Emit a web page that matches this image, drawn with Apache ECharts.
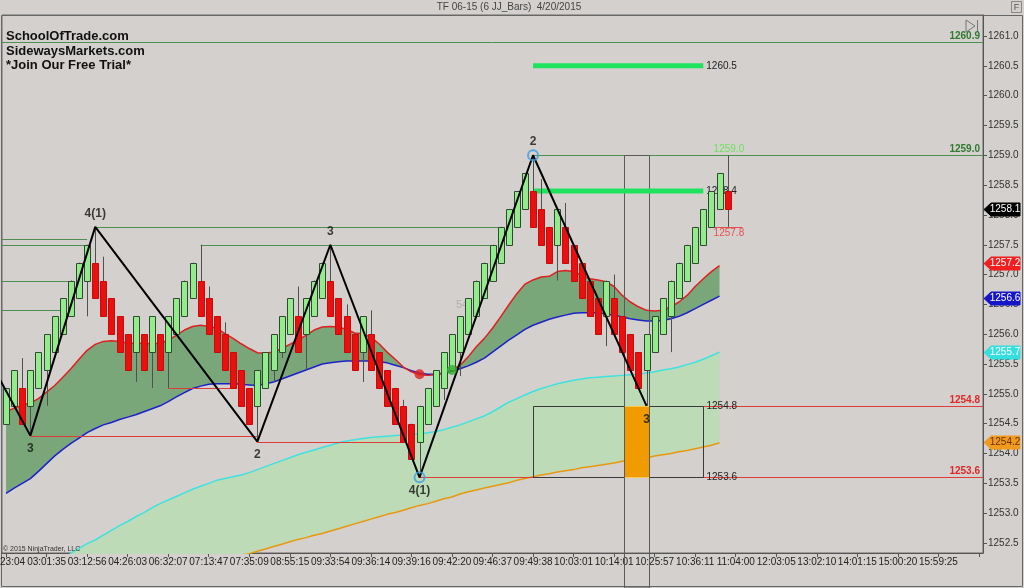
<!DOCTYPE html>
<html><head><meta charset="utf-8">
<script src="https://cdn.jsdelivr.net/npm/echarts@6/dist/echarts.min.js"></script>
<style>html,body{margin:0;padding:0;background:#d3d0cd;}#c{width:1024px;height:588px;}</style>
</head><body><div id="c"></div>
<script>
// ---------- DATA ----------
// first label is cut by the left edge in the original; only "23:04" is visible
const tickLabels = ["23:04","03:01:35","03:12:56","04:26:03","06:32:07","07:13:47","07:35:09","08:55:15",
  "09:33:54","09:36:14","09:39:16","09:42:20","09:46:37","09:49:38","10:03:01","10:14:01","10:25:57",
  "10:36:11","11:04:00","12:03:05","13:02:10","14:01:15","15:00:20","15:59:25"];
const slotCount = 121;

const barOpen = [1254.5,1254.8,1255.1,1254.8,1255.1,1255.4,1255.7,1256.0,1256.3,1256.6,
 1256.9,1257.2,1256.9,1256.6,1256.3,1256.0,1255.7,1256.0,1255.7,1256.0,
 1255.7,1256.0,1256.3,1256.6,1256.9,1256.6,1256.3,1256.0,1255.7,1255.4,
 1255.1,1254.8,1255.1,1255.4,1255.7,1256.0,1256.3,1256.0,1256.3,1256.6,
 1256.9,1256.6,1256.3,1256.0,1255.7,1256.0,1255.7,1255.4,1255.1,1254.8,
 1254.5,1254.2,1254.5,1254.8,1255.1,1255.4,1255.7,1256.0,1256.3,1256.6,
 1256.9,1257.2,1257.5,1257.8,1258.1,1258.4,1258.1,1257.8,1257.5,1257.8,
 1257.5,1257.2,1256.9,1256.6,1256.3,1256.6,1256.3,1256.0,1255.7,1255.4,
 1255.7,1256.0,1256.3,1256.6,1256.9,1257.2,1257.5,1257.8,1258.1,1258.4];
const barClose = [1255.1,1255.4,1254.5,1255.4,1255.7,1256.0,1256.3,1256.6,1256.9,1257.2,
 1257.5,1256.6,1256.3,1256.0,1255.7,1255.4,1256.3,1255.4,1256.3,1255.4,
 1256.3,1256.6,1256.9,1257.2,1256.3,1256.0,1255.7,1255.4,1255.1,1254.8,
 1254.5,1255.4,1255.7,1256.0,1256.3,1256.6,1255.7,1256.6,1256.9,1257.2,
 1256.3,1256.0,1255.7,1255.4,1256.3,1255.4,1255.1,1254.8,1254.5,1254.2,
 1253.9,1254.8,1255.1,1255.4,1255.7,1256.0,1256.3,1256.6,1256.9,1257.2,
 1257.5,1257.8,1258.1,1258.4,1258.7,1257.8,1257.5,1257.2,1258.1,1257.2,
 1256.9,1256.6,1256.3,1256.0,1256.9,1256.0,1255.7,1255.4,1255.1,1256.0,
 1256.3,1256.6,1256.9,1257.2,1257.5,1257.8,1258.1,1258.4,1258.7,1258.1];
const barHigh = [1255.1,1255.4,1255.6,1255.4,1255.7,1256.0,1256.3,1256.6,1256.9,1257.2,
 1257.5,1257.8,1257.3,1256.6,1256.3,1256.0,1256.3,1256.0,1256.3,1256.0,
 1256.3,1256.6,1256.9,1257.2,1257.5,1256.8,1256.3,1256.2,1255.7,1255.4,
 1255.1,1255.4,1255.7,1256.0,1256.3,1256.6,1256.8,1256.6,1256.9,1257.2,
 1257.5,1256.6,1256.5,1256.0,1256.3,1256.4,1255.7,1255.4,1255.1,1254.9,
 1254.5,1254.8,1255.1,1255.4,1255.7,1256.0,1256.3,1256.6,1256.9,1257.2,
 1257.5,1257.8,1258.1,1258.4,1258.7,1259.0,1258.6,1257.8,1258.1,1258.2,
 1257.5,1257.2,1256.9,1256.6,1256.9,1257.0,1256.3,1256.0,1255.7,1256.0,
 1256.3,1256.6,1256.9,1257.2,1257.5,1257.8,1258.1,1258.4,1258.7,1259.0];
const barLow = [1254.5,1254.8,1254.5,1254.3,1255.1,1254.8,1255.7,1256.0,1256.3,1256.6,
 1256.3,1256.6,1256.3,1256.0,1255.7,1255.4,1255.2,1255.4,1255.1,1255.4,
 1255.1,1256.0,1256.3,1256.6,1256.3,1256.0,1255.7,1255.4,1255.1,1254.8,
 1254.5,1254.2,1255.1,1255.2,1255.6,1256.0,1255.7,1255.4,1256.3,1256.6,
 1256.3,1256.0,1255.7,1255.4,1255.2,1255.4,1255.1,1254.8,1254.5,1254.2,
 1253.9,1253.6,1254.5,1254.8,1254.9,1255.4,1255.3,1256.0,1256.3,1256.6,
 1256.9,1257.2,1257.5,1257.8,1258.1,1257.8,1257.5,1257.2,1256.9,1257.2,
 1256.9,1256.6,1256.3,1256.0,1255.8,1256.0,1255.7,1255.4,1255.1,1254.8,
 1255.7,1256.0,1255.7,1256.6,1256.9,1257.2,1257.5,1257.8,1258.1,1257.8];

const redMA = [1254.70,1254.76,1254.81,1254.85,1254.92,1255.03,1255.14,1255.28,1255.42,1255.58,
 1255.73,1255.83,1255.88,1255.89,1255.88,1255.85,1255.85,1255.85,1255.84,1255.85,
 1255.90,1255.98,1256.07,1256.13,1256.15,1256.13,1256.10,1256.01,1255.93,1255.84,
 1255.76,1255.69,1255.68,1255.70,1255.76,1255.83,1255.90,1255.98,1256.07,1256.12,
 1256.13,1256.12,1256.08,1256.02,1256.01,1255.95,1255.84,1255.70,1255.58,1255.45,
 1255.37,1255.32,1255.31,1255.32,1255.35,1255.40,1255.48,1255.62,1255.79,1255.93,
 1256.10,1256.29,1256.49,1256.68,1256.84,1256.91,1256.96,1256.97,1257.05,1257.07,
 1257.05,1256.99,1256.93,1256.91,1256.88,1256.80,1256.65,1256.54,1256.46,1256.40,
 1256.39,1256.40,1256.46,1256.54,1256.65,1256.80,1256.93,1257.05,1257.15];
const blueMA = [1253.33,1253.42,1253.50,1253.58,1253.70,1253.83,1253.96,1254.07,1254.17,1254.26,
 1254.35,1254.42,1254.48,1254.52,1254.57,1254.61,1254.65,1254.70,1254.75,1254.80,
 1254.87,1254.95,1255.02,1255.09,1255.13,1255.16,1255.17,1255.17,1255.17,1255.16,
 1255.15,1255.14,1255.17,1255.20,1255.25,1255.30,1255.35,1255.40,1255.45,1255.50,
 1255.52,1255.54,1255.55,1255.55,1255.55,1255.55,1255.54,1255.52,1255.48,1255.44,
 1255.39,1255.35,1255.33,1255.33,1255.35,1255.38,1255.42,1255.47,1255.53,1255.60,
 1255.70,1255.80,1255.90,1255.99,1256.08,1256.15,1256.20,1256.25,1256.29,1256.32,
 1256.35,1256.36,1256.36,1256.36,1256.34,1256.32,1256.29,1256.26,1256.24,1256.22,
 1256.22,1256.23,1256.26,1256.30,1256.36,1256.43,1256.50,1256.57,1256.64];
const cyanMA = [null,null,null,null,null,null,null,1252.22,1252.33,1252.41,
 1252.49,1252.55,1252.63,1252.71,1252.79,1252.86,1252.94,1253.01,1253.09,1253.16,
 1253.22,1253.28,1253.34,1253.40,1253.45,1253.50,1253.55,1253.58,1253.61,1253.64,
 1253.68,1253.73,1253.78,1253.83,1253.88,1253.93,1253.98,1254.02,1254.06,1254.10,
 1254.14,1254.18,1254.21,1254.23,1254.25,1254.27,1254.28,1254.29,1254.30,1254.31,
 1254.32,1254.33,1254.35,1254.37,1254.40,1254.44,1254.48,1254.53,1254.58,1254.63,
 1254.70,1254.78,1254.86,1254.92,1254.98,1255.04,1255.09,1255.13,1255.17,1255.20,
 1255.23,1255.25,1255.27,1255.28,1255.29,1255.30,1255.31,1255.32,1255.33,1255.35,
 1255.37,1255.40,1255.42,1255.45,1255.49,1255.53,1255.58,1255.64,1255.70];
const orangeMA = [null,null,null,null,null,null,null,1251.50,1251.54,1251.58,
 1251.62,1251.66,1251.70,1251.74,1251.78,1251.82,1251.86,1251.90,1251.94,1251.98,
 1252.02,1252.06,1252.10,1252.13,1252.16,1252.19,1252.22,1252.25,1252.28,1252.30,
 1252.32,1252.36,1252.40,1252.44,1252.48,1252.52,1252.56,1252.59,1252.63,1252.66,
 1252.70,1252.74,1252.78,1252.82,1252.86,1252.90,1252.94,1252.98,1253.01,1253.05,
 1253.09,1253.13,1253.16,1253.20,1253.24,1253.27,1253.32,1253.36,1253.39,1253.42,
 1253.45,1253.48,1253.51,1253.55,1253.58,1253.61,1253.64,1253.66,1253.69,1253.71,
 1253.73,1253.76,1253.78,1253.80,1253.82,1253.84,1253.87,1253.89,1253.91,1253.93,
 1253.96,1253.98,1254.00,1254.03,1254.05,1254.08,1254.11,1254.14,1254.18];

// swing zigzag
const zzIdx   = [-1, 3, 11, 31, 40, 51, 65, 79];
const zzPrice = [1255.3, 1254.3, 1257.8, 1254.2, 1257.5, 1253.6, 1259.0, 1254.8];
const zzText  = ["", "3", "4(1)", "2", "3", "4(1)", "2", "3"];
const zzSide  = ["low","low","high","low","high","low","high","low"];
const zzCircleIdx = [51, 65];
const zzCirclePrice = [1253.6, 1259.0];
// MA cross dots
const crossIdx = [51, 55];
const crossPrice = [1255.33, 1255.40];
const crossDir = ["down", "up"];

// horizontal swing levels (null = runs off the chart edge)
const levelPrice = [1260.9, 1259.0, 1257.8, 1257.6, 1257.5, 1256.9, 1256.4, 1257.5, 1254.3, 1255.1, 1254.2, 1253.6, 1254.8];
const levelFrom  = [null, 65, 11, null, null, null, null, 24, 3, 20, 31, 51, 79];
const levelTo    = [null, null, 61, 10, 10, 8, 7, 60, 31, 28, 49, null, null];
const levelSide  = ["high","high","high","high","high","high","high","high","low","low","low","low","low"];

// target lines
const targetPrice = [1260.5, 1258.4];
const targetFrom = [65, 65];
const targetTo = [86, 86];

// zones
const zoneFrom = [65, 76.25, 76.25];
const zoneTo   = [86, 79.25, 79.25];
const zoneLow  = [1253.6, 1253.6, null];
const zoneHigh = [1254.8, 1254.8, 1259.0];
const zoneKind = ["box", "fill", "column"];

// current bar projection
const projHigh = 1259.0, projLow = 1257.8;

// axis price markers
const tagValues = [1258.1, 1257.2, 1256.6, 1255.7, 1254.2];

// ---------- CHART ----------
const FONT = "'Liberation Sans', Arial, sans-serif";
const cats = Array.from({length: slotCount}, (_, i) => String(i));
const nBars = barOpen.length;
const candleData = barOpen.map((o, i) => [i, o, barHigh[i], barLow[i], barClose[i]]);
const dgLow = redMA.map((r, i) => Math.min(r, blueMA[i]));
const dgBand = redMA.map((r, i) => Math.abs(r - blueMA[i]));
const lgBand = cyanMA.map((c, i) => c == null ? null : c - orangeMA[i]);
const pair = arr => arr.map((v, i) => [i, v == null ? '-' : v]);

function xAt(api, f, p) {
  const i = Math.floor(f);
  return api.coord([i, p])[0] + (f - i) * api.size([1, 0])[0];
}

const chart = echarts.init(document.getElementById('c'), null, {renderer: 'canvas'});
const option = {
  animation: false,
  backgroundColor: '#d3d0cd',
  textStyle: {fontFamily: FONT},
  grid: {left: 2, right: 41, top: 15, bottom: 35, show: true, borderColor: '#6a6a6a', borderWidth: 1,
    containLabel: false, outerBoundsMode: 'none'},
  xAxis: {
    type: 'category', data: cats, boundaryGap: true,
    axisLine: {show: true, lineStyle: {color: '#555', width: 1}},
    axisTick: {show: true, alignWithLabel: true, interval: 4, length: 4, lineStyle: {color: '#555'}},
    axisLabel: {interval: 4, fontSize: 10, color: '#222', margin: 4, fontFamily: FONT, showMinLabel: true, hideOverlap: false,
      rich: {first: {fontSize: 10, color: '#222', fontFamily: FONT, padding: [0, 0, 0, 13]}},
      formatter: (v, i) => {
        if (i % 5 !== 0 || !tickLabels[i / 5]) return '';
        return i === 0 ? '{first|' + tickLabels[0] + '}' : tickLabels[i / 5];
      }},
    splitLine: {show: false}
  },
  yAxis: {
    type: 'value', position: 'right', min: 1252.332, max: 1261.352, splitNumber: 18, scale: true,
    axisLine: {show: true, lineStyle: {color: '#555'}},
    axisTick: {show: true, length: 4, lineStyle: {color: '#555'}},
    axisLabel: {fontSize: 10, color: '#333', margin: 5, fontFamily: FONT, showMinLabel: false, showMaxLabel: false,
      formatter: v => v.toFixed(1)},
    splitLine: {show: false}
  },
  graphic: [
    {type: 'rect', shape: {x: 1.5, y: 15.5, width: 1021, height: 571}, style: {fill: 'none', stroke: '#666', lineWidth: 1}, silent: true, z: -1},
    {type: 'text', x: 509, y: 7, style: {text: 'TF 06-15 (6 JJ_Bars)  4/20/2015', font: '10px ' + FONT, fill: '#444', align: 'center', verticalAlign: 'middle'}},
    {type: 'text', x: 6, y: 36, style: {text: 'SchoolOfTrade.com', font: 'bold 13px ' + FONT, fill: '#111', verticalAlign: 'middle'}, z: 50},
    {type: 'text', x: 6, y: 51, style: {text: 'SidewaysMarkets.com', font: 'bold 13px ' + FONT, fill: '#111', verticalAlign: 'middle'}, z: 50},
    {type: 'text', x: 6, y: 65, style: {text: '*Join Our Free Trial*', font: 'bold 13px ' + FONT, fill: '#111', verticalAlign: 'middle'}, z: 50},
    {type: 'text', x: 3, y: 549, style: {text: '\u00a9 2015 NinjaTrader, LLC', font: '7px ' + FONT, fill: '#333', verticalAlign: 'middle'}, z: 50},
    {type: 'text', x: 456, y: 305, style: {text: '54', font: '11px ' + FONT, fill: 'rgba(165,165,165,0.75)', verticalAlign: 'middle'}, z: 1},
    {type: 'polygon', shape: {points: [[966, 20], [966, 32], [975, 26]]}, style: {fill: 'none', stroke: '#777', lineWidth: 1}},
    {type: 'line', shape: {x1: 977.5, y1: 20, x2: 977.5, y2: 32}, style: {stroke: '#777', lineWidth: 1}},
    {type: 'rect', shape: {x: 1011.5, y: 1.5, width: 10, height: 11}, style: {fill: 'none', stroke: '#888', lineWidth: 1}},
    {type: 'text', x: 1016.5, y: 7.5, style: {text: 'F', font: '9px ' + FONT, fill: '#555', align: 'center', verticalAlign: 'middle'}}
  ],
  series: [
    // light green band between cyan and orange
    {type: 'line', data: pair(orangeMA), stack: 'lg', symbol: 'none', lineStyle: {opacity: 0}, z: 1, silent: true},
    {type: 'line', data: pair(lgBand), stack: 'lg', symbol: 'none', lineStyle: {opacity: 0}, areaStyle: {color: '#bddbb7', opacity: 1}, z: 1, silent: true},
    // dark green band between red and blue
    {type: 'line', data: pair(dgLow), stack: 'dg', symbol: 'none', lineStyle: {opacity: 0}, z: 2, silent: true},
    {type: 'line', data: pair(dgBand), stack: 'dg', symbol: 'none', lineStyle: {opacity: 0}, areaStyle: {color: '#7aa77a', opacity: 1}, z: 2, silent: true},
    // MA lines
    {type: 'line', data: pair(orangeMA), symbol: 'none', lineStyle: {color: '#e8980f', width: 1.5}, z: 3},
    {type: 'line', data: pair(cyanMA), symbol: 'none', lineStyle: {color: '#3fe2e0', width: 1.5}, z: 3},
    {type: 'line', data: pair(blueMA), symbol: 'none', lineStyle: {color: '#1c22c8', width: 1.5}, z: 3},
    {type: 'line', data: pair(redMA), symbol: 'none', lineStyle: {color: '#dd2020', width: 1.5}, z: 3},
    // swing levels
    {
      type: 'custom', z: 4, clip: false,
      data: levelPrice.map((p, k) => [levelFrom[k] == null ? 0 : levelFrom[k], p, levelTo[k] == null ? 0 : levelTo[k],
        levelFrom[k] == null ? 1 : 0, levelTo[k] == null ? 1 : 0, levelSide[k] === 'high' ? 1 : 0]),
      encode: {x: 0, y: 1},
      renderItem: (params, api) => {
        const cs = params.coordSys;
        const p = api.value(1);
        const y = Math.round(api.coord([0, p])[1]) + 0.5;
        const x1 = api.value(3) ? cs.x : api.coord([api.value(0), p])[0];
        const x2 = api.value(4) ? cs.x + cs.width : api.coord([api.value(2), p])[0];
        const hi = api.value(5) === 1;
        const ch = [{type: 'line', shape: {x1, y1: y, x2, y2: y}, style: {stroke: hi ? '#4f8f4f' : '#e03c3c', lineWidth: 1}}];
        if (api.value(4)) ch.push({type: 'text', style: {text: p.toFixed(1), x: x2 - 3, y: y - 1, align: 'right', verticalAlign: 'bottom',
          fontSize: 10, fontWeight: 'bold', fontFamily: FONT, fill: hi ? '#2f7a2f' : '#e02828'}});
        return {type: 'group', children: ch};
      }
    },
    // zones
    {
      type: 'custom', z: 4, clip: false,
      data: zoneFrom.map((f, k) => [Math.floor(f), zoneHigh[k], f, zoneTo[k], zoneLow[k] == null ? 0 : zoneLow[k], k]),
      encode: {x: 0, y: 1},
      renderItem: (params, api) => {
        const k = api.value(5);
        const kind = zoneKind[k];
        const hiP = api.value(1);
        const x1 = Math.round(xAt(api, api.value(2), hiP)) + 0.5;
        const x2 = Math.round(xAt(api, api.value(3), hiP)) + 0.5;
        const y1 = Math.round(api.coord([0, hiP])[1]) + 0.5;
        const y2 = kind === 'column' ? api.getHeight() : Math.round(api.coord([0, api.value(4)])[1]) + 0.5;
        if (kind === 'fill') {
          return {type: 'rect', shape: {x: x1, y: y1, width: x2 - x1, height: y2 - y1}, style: {fill: '#f09c00', stroke: '#f7c84a', lineWidth: 1}, z2: 5};
        }
        if (kind === 'column') {
          return {type: 'rect', shape: {x: x1, y: y1, width: x2 - x1, height: y2 - y1}, style: {fill: 'none', stroke: '#5a5a5a', lineWidth: 1}, z2: 6};
        }
        return {type: 'group', children: [
          {type: 'rect', shape: {x: x1, y: y1, width: x2 - x1, height: y2 - y1}, style: {fill: 'none', stroke: '#3a3a3a', lineWidth: 1}},
          {type: 'text', style: {text: zoneHigh[k].toFixed(1), x: x2 + 3, y: y1, verticalAlign: 'middle', font: '10px ' + FONT, fill: '#222'}},
          {type: 'text', style: {text: zoneLow[k].toFixed(1), x: x2 + 3, y: y2, verticalAlign: 'middle', font: '10px ' + FONT, fill: '#222'}}
        ]};
      }
    },
    // target lines
    {
      type: 'custom', z: 5, clip: false,
      data: targetPrice.map((p, k) => [targetFrom[k], p, targetTo[k]]),
      encode: {x: 0, y: 1},
      renderItem: (params, api) => {
        const p = api.value(1);
        const a = api.coord([api.value(0), p]);
        const b = api.coord([api.value(2), p]);
        return {type: 'group', children: [
          {type: 'line', shape: {x1: a[0], y1: a[1], x2: b[0], y2: b[1]}, style: {stroke: '#1ee35f', lineWidth: 5}},
          {type: 'text', style: {text: p.toFixed(1), x: b[0] + 3, y: b[1], verticalAlign: 'middle', font: '10px ' + FONT, fill: '#222'}}
        ]};
      }
    },
    // candles
    {
      type: 'custom', z: 6,
      data: candleData,
      encode: {x: 0, y: [1, 2, 3, 4]},
      renderItem: (params, api) => {
        const i = api.value(0), o = api.value(1), h = api.value(2), l = api.value(3), c = api.value(4);
        const po = api.coord([i, o]), pc = api.coord([i, c]);
        const yh = api.coord([i, h])[1], yl = api.coord([i, l])[1];
        const x = Math.round(po[0]) + 0.5;
        const bw = 6;
        const top = Math.round(Math.min(po[1], pc[1])) + 0.5, bot = Math.round(Math.max(po[1], pc[1])) + 0.5;
        const up = c >= o;
        return {type: 'group', children: [
          {type: 'line', shape: {x1: x, y1: yh, x2: x, y2: yl}, style: {stroke: '#505050', lineWidth: 1}},
          {type: 'rect', shape: {x: x - bw / 2, y: top, width: bw, height: bot - top},
            style: up ? {fill: '#92ec8c', stroke: '#2f4a2f', lineWidth: 1} : {fill: '#ea1010', stroke: '#c80a0a', lineWidth: 1}}
        ]};
      }
    },
    // current bar projection labels
    {
      type: 'custom', z: 5, clip: false,
      data: [[nBars - 1, projHigh, projLow]],
      encode: {x: 0, y: 1},
      renderItem: (params, api) => {
        const i = api.value(0);
        const ph = api.coord([i, api.value(1)]);
        const pl = api.coord([i, api.value(2)]);
        const y = Math.round(pl[1]) + 0.5;
        return {type: 'group', children: [
          {type: 'text', style: {text: api.value(1).toFixed(1), x: ph[0] - 14, y: ph[1] - 1, verticalAlign: 'bottom', font: '10px ' + FONT, fill: '#6fe05f'}},
          {type: 'line', shape: {x1: pl[0] - 16, y1: y, x2: pl[0] + 15, y2: y}, style: {stroke: '#e05050', lineWidth: 1}},
          {type: 'text', style: {text: api.value(2).toFixed(1), x: pl[0] - 14, y: pl[1] + 1, verticalAlign: 'top', font: '10px ' + FONT, fill: '#e85050'}}
        ]};
      }
    },
    // zigzag
    {type: 'line', data: zzIdx.map((i, k) => [i, zzPrice[k]]), symbol: 'none', lineStyle: {color: '#000', width: 2}, z: 7},
    {type: 'scatter', z: 8, symbolSize: 1, itemStyle: {color: 'rgba(0,0,0,0)'},
      data: zzIdx.map((i, k) => ({value: [i, zzPrice[k]], label: {show: zzText[k] !== '', formatter: zzText[k],
        position: zzSide[k] === 'high' ? 'top' : 'bottom', distance: 7, fontWeight: 'bold', fontSize: 12, color: '#111', fontFamily: FONT}}))},
    {type: 'scatter', z: 8, symbol: 'circle', symbolSize: 10,
      itemStyle: {color: 'rgba(0,0,0,0)', borderColor: '#3c9de2', borderWidth: 2},
      data: zzCircleIdx.map((i, k) => [i, zzCirclePrice[k]])},
    {type: 'scatter', z: 8, symbol: 'circle', symbolSize: 10,
      data: crossIdx.map((i, k) => ({value: [i, crossPrice[k]], itemStyle: {color: crossDir[k] === 'down' ? '#e0201e' : '#2fae2f'}}))},
    // axis price tags
    {
      type: 'custom', z: 20, clip: false,
      data: tagValues.map(v => [0, v]),
      encode: {x: 0, y: 1},
      renderItem: (params, api) => {
        const cs = params.coordSys;
        const p = api.value(1);
        const k = params.dataIndex;
        const fills = ['#000000', '#f01e1e', '#1616c8', '#37dede', '#f09a1e'];
        const texts = ['#ffffff', '#ffffff', '#ffffff', '#ffffff', '#6a3300'];
        const y = Math.round(api.coord([0, p])[1]) + 0.5;
        const x0 = cs.x + cs.width + 1, x1 = x0 + 36, h = 6.5;
        return {type: 'group', children: [
          {type: 'polygon', shape: {points: [[x0, y], [x0 + 7, y - h], [x1, y - h], [x1, y + h], [x0 + 7, y + h]]}, style: {fill: fills[k], stroke: fills[k], lineWidth: 1}},
          {type: 'text', style: {text: p.toFixed(1), x: (x0 + 6 + x1) / 2, y: y, align: 'center', verticalAlign: 'middle', font: '10px ' + FONT, fill: texts[k]}}
        ]};
      }
    }
  ]
};
chart.setOption(option);
</script>
</body></html>
